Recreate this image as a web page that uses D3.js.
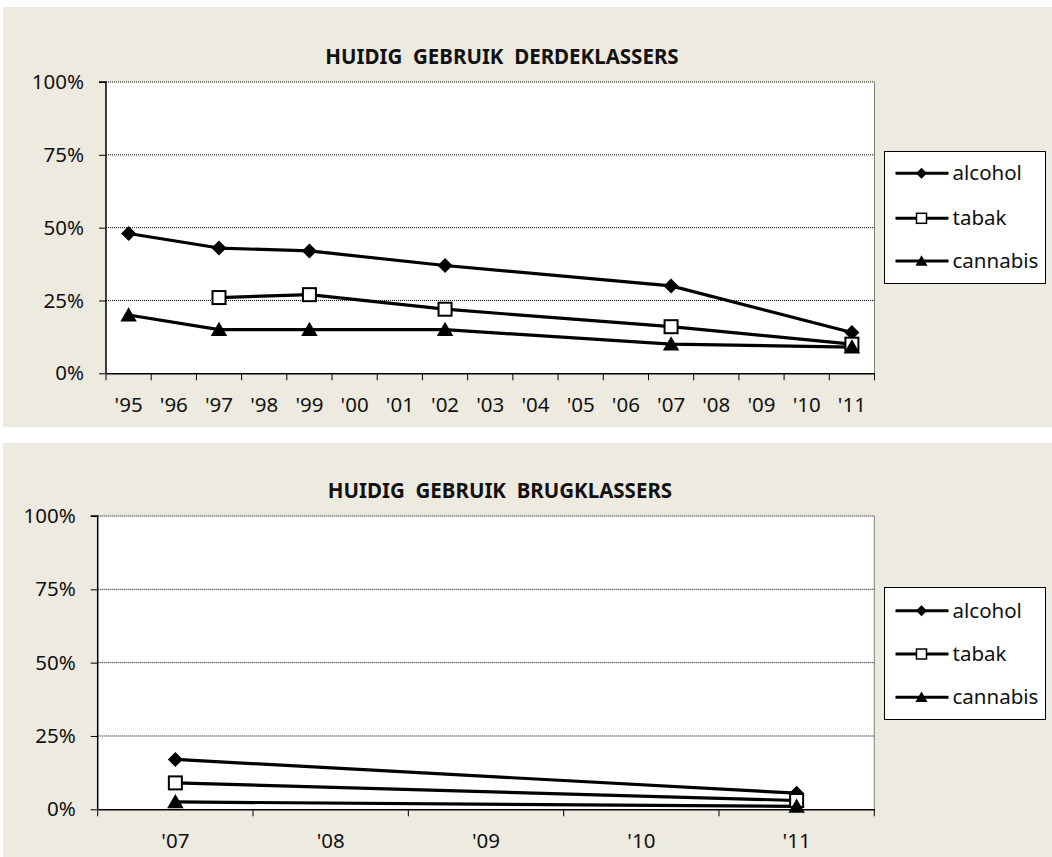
<!DOCTYPE html>
<html>
<head>
<meta charset="utf-8">
<script src="https://cdn.jsdelivr.net/npm/d3@7"></script>
<style>
  html, body { margin: 0; padding: 0; background: #ffffff; }
  svg { display: block; font-family: "Noto Sans", "Open Sans", sans-serif; }
</style>
</head>
<body>
<svg id="chart" width="1052" height="857"></svg>
<script>
// ---------- DATA ----------
const topTitle = "HUIDIG\u00a0\u00a0GEBRUIK\u00a0\u00a0DERDEKLASSERS";
const topCategories = ["'95","'96","'97","'98","'99","'00","'01","'02","'03","'04","'05","'06","'07","'08","'09","'10","'11"];
const topMeasured = ["'95","'97","'99","'02","'07","'11"];
const topAlcohol = [48, 43, 42, 37, 30, 14];
const topTabak = [null, 26, 27, 22, 16, 10];
const topCannabis = [20, 15, 15, 15, 10, 9];

const bottomTitle = "HUIDIG\u00a0\u00a0GEBRUIK\u00a0\u00a0BRUGKLASSERS";
const bottomCategories = ["'07","'08","'09","'10","'11"];
const bottomMeasured = ["'07","'11"];
const bottomAlcohol = [17, 5.5];
const bottomTabak = [9, 3];
const bottomCannabis = [2.5, 1];

const seriesNames = ["alcohol", "tabak", "cannabis"];
const seriesMarkers = ["diamond", "square", "triangle"];
const yTicks = [0, 25, 50, 75, 100];
const yTickLabels = ["0%", "25%", "50%", "75%", "100%"];

// ---------- DRAWING ----------
const svg = d3.select("#chart");
const BG = "#EDEAE0";
const FS = 20.5;

function markerPath(type, s) {
  if (type === "diamond") return `M0,${-s}L${s},0L0,${s}L${-s},0Z`;
  if (type === "triangle") return `M0,${-s}L${s*1.1},${s*0.9}L${-s*1.1},${s*0.9}Z`;
  return null;
}

function drawMarker(g, type, x, y, big) {
  if (type === "square") {
    const h = big ? 6.5 : 5;
    g.append("rect").attr("x", x - h).attr("y", y - h).attr("width", 2*h).attr("height", 2*h)
      .attr("fill", "#fff").attr("stroke", "#000").attr("stroke-width", big ? 2 : 1.5);
  } else {
    const s = big ? 7.5 : 5.5;
    g.append("path").attr("d", markerPath(type, s)).attr("transform", `translate(${x},${y + (type === "triangle" ? -s*0.05 : 0)})`)
      .attr("fill", "#000");
  }
}

function drawChart(cfg) {
  const g = svg.append("g");
  g.append("rect").attr("x", cfg.panel[0]).attr("y", cfg.panel[1]).attr("width", cfg.panel[2]).attr("height", cfg.panel[3]).attr("fill", BG);

  const x = d3.scaleBand().domain(cfg.categories).range([cfg.left, cfg.right]).paddingInner(0).paddingOuter(0);
  const y = d3.scaleLinear().domain([0, 100]).range([cfg.bottom, cfg.top]);

  // plot area
  g.append("rect").attr("x", cfg.left).attr("y", cfg.top).attr("width", cfg.right - cfg.left).attr("height", cfg.bottom - cfg.top)
    .attr("fill", "#fff");
  g.append("line").attr("x1", cfg.right).attr("x2", cfg.right).attr("y1", cfg.top).attr("y2", cfg.bottom)
    .attr("stroke", "#808080").attr("stroke-width", 1);

  // gridlines
  g.selectAll(".grid").data(yTicks.filter(t => t > 0)).enter().append("line")
    .attr("x1", cfg.left).attr("x2", cfg.right)
    .attr("y1", d => y(d)).attr("y2", d => y(d))
    .attr("stroke", "#000").attr("stroke-width", 1).attr("stroke-dasharray", "1,1");

  // y axis
  const yAxis = d3.axisLeft(y).tickValues(yTicks).tickFormat((d, i) => yTickLabels[i]).tickSize(7).tickPadding(15);
  const ya = g.append("g").attr("transform", `translate(${cfg.left},0)`).call(yAxis);
  ya.select(".domain").attr("stroke", "#000").attr("stroke-width", 1.5).attr("d", `M-7,${cfg.top}H0V${cfg.bottom}`);
  ya.selectAll(".tick line").attr("stroke", "#000");
  ya.selectAll(".tick text").attr("font-size", FS).attr("fill", "#111").attr("font-family", "Noto Sans");

  // x axis labels
  const xAxis = d3.axisBottom(x).tickSize(0).tickPadding(cfg.xLabelPad);
  const xa = g.append("g").attr("transform", `translate(0,${cfg.bottom})`).call(xAxis);
  xa.select(".domain").attr("stroke", "#000").attr("stroke-width", 1.5);
  xa.selectAll(".tick text").attr("font-size", FS).attr("fill", "#111").attr("font-family", "Noto Sans");
  // tick marks at category boundaries
  const bounds = cfg.categories.map(c => x(c)).concat([cfg.right]);
  xa.selectAll(".bnd").data(bounds).enter().append("line")
    .attr("x1", d => d).attr("x2", d => d).attr("y1", 0).attr("y2", 7)
    .attr("stroke", "#000").attr("stroke-width", 1);

  // title
  g.append("text").attr("x", cfg.titleX).attr("y", cfg.titleY).attr("text-anchor", "middle")
    .attr("font-size", 20.5).attr("font-weight", "bold").attr("fill", "#111").text(cfg.title);

  // series
  const cx = c => x(c) + x.bandwidth() / 2;
  const line = d3.line().defined(d => d.v !== null).x(d => cx(d.c)).y(d => y(d.v));
  cfg.series.forEach((vals, si) => {
    const pts = cfg.measured.map((c, i) => ({ c, v: vals[i] })).filter(d => d.v !== null);
    g.append("path").datum(pts).attr("d", line).attr("fill", "none").attr("stroke", "#000").attr("stroke-width", 3.2)
      .attr("stroke-linejoin", "round");
  });
  cfg.series.forEach((vals, si) => {
    cfg.measured.forEach((c, i) => {
      if (vals[i] !== null) drawMarker(g, seriesMarkers[si], cx(c), y(vals[i]), true);
    });
  });

  // legend
  const L = cfg.legend;
  g.append("rect").attr("x", L.x).attr("y", L.y).attr("width", L.w).attr("height", L.h)
    .attr("fill", "#fff").attr("stroke", "#000").attr("stroke-width", 1);
  seriesNames.forEach((name, i) => {
    const ly = L.rows[i];
    g.append("line").attr("x1", L.x + 11).attr("x2", L.x + 64).attr("y1", ly).attr("y2", ly)
      .attr("stroke", "#000").attr("stroke-width", 3);
    drawMarker(g, seriesMarkers[i], L.x + 37, ly, false);
    g.append("text").attr("x", L.x + 68).attr("y", ly).attr("dy", "0.35em")
      .attr("font-size", FS).attr("fill", "#111").text(name);
  });
}

drawChart({
  panel: [3, 7, 1049, 420],
  left: 106, right: 874.5, top: 82, bottom: 373.3,
  categories: topCategories, measured: topMeasured,
  series: [topAlcohol, topTabak, topCannabis],
  title: topTitle, titleX: 502, titleY: 64, xLabelPad: 24,
  legend: { x: 884.5, y: 151.5, w: 161, h: 132, rows: [173.3, 218.3, 261] }
});

drawChart({
  panel: [3, 443, 1049, 414],
  left: 97.7, right: 874.3, top: 516, bottom: 809.3,
  categories: bottomCategories, measured: bottomMeasured,
  series: [bottomAlcohol, bottomTabak, bottomCannabis],
  title: bottomTitle, titleX: 500, titleY: 498, xLabelPad: 24,
  legend: { x: 884.5, y: 587.5, w: 161, h: 132, rows: [610.7, 654, 697.3] }
});
</script>
</body>
</html>
